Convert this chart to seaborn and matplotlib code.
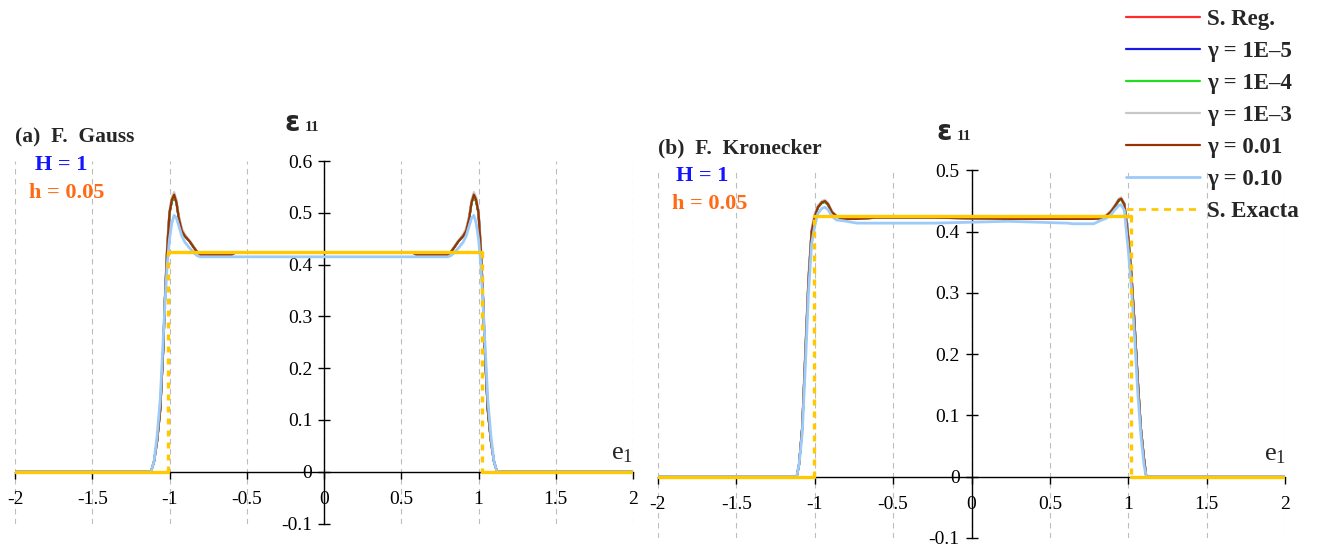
import matplotlib
matplotlib.use("Agg")
import matplotlib.pyplot as plt
import numpy as np
import seaborn as sns
from matplotlib.lines import Line2D

sns.set_theme(style="white")
plt.rcParams["font.family"] = ["Liberation Serif", "DejaVu Serif"]
plt.rcParams["axes.unicode_minus"] = False
plt.rcParams["mathtext.fontset"] = "custom"
plt.rcParams["mathtext.rm"] = "Liberation Serif"

W, H = 1324, 547

# ---------------- data: (a) Gauss filter ----------------
gauss_x = [-2.0, -1.12, -1.10, -1.08, -1.06, -1.04, -1.03, -1.015, -1.0, -0.985, -0.97,
           -0.955, -0.94, -0.92, -0.90, -0.87, -0.84, -0.82, -0.80, -0.77, -0.60, -0.57,
           0.0,
           0.57, 0.60, 0.77, 0.80, 0.82, 0.84, 0.87, 0.90, 0.92, 0.94, 0.955,
           0.97, 0.985, 1.0, 1.015, 1.03, 1.04, 1.06, 1.08, 1.10, 1.12, 2.0]
gauss_fine = [0.0, 0.0, 0.02, 0.06, 0.12, 0.24, 0.33, 0.43, 0.50, 0.522, 0.532,
              0.52, 0.49, 0.465, 0.455, 0.445, 0.432, 0.424, 0.419, 0.419, 0.419, 0.424,
              0.424,
              0.424, 0.419, 0.419, 0.419, 0.424, 0.432, 0.445, 0.455, 0.465, 0.49, 0.52,
              0.532, 0.522, 0.50, 0.43, 0.33, 0.24, 0.12, 0.06, 0.02, 0.0, 0.0]
gauss_g1e3 = [0.0, 0.0, 0.02, 0.06, 0.13, 0.25, 0.34, 0.44, 0.505, 0.53, 0.54,
              0.525, 0.495, 0.47, 0.458, 0.447, 0.433, 0.424, 0.419, 0.419, 0.419, 0.424,
              0.424,
              0.424, 0.419, 0.419, 0.419, 0.424, 0.433, 0.447, 0.458, 0.47, 0.495, 0.525,
              0.54, 0.53, 0.505, 0.44, 0.34, 0.25, 0.13, 0.06, 0.02, 0.0, 0.0]
gauss_g001 = [0.0, 0.0, 0.02, 0.06, 0.12, 0.24, 0.33, 0.43, 0.50, 0.525, 0.535,
              0.52, 0.49, 0.465, 0.455, 0.445, 0.432, 0.424, 0.419, 0.419, 0.419, 0.424,
              0.424,
              0.424, 0.419, 0.419, 0.419, 0.424, 0.432, 0.445, 0.455, 0.465, 0.49, 0.52,
              0.535, 0.525, 0.50, 0.43, 0.33, 0.24, 0.12, 0.06, 0.02, 0.0, 0.0]
gauss_g010 = [0.0, 0.0, 0.02, 0.07, 0.14, 0.26, 0.32, 0.40, 0.45, 0.48, 0.495,
              0.49, 0.475, 0.455, 0.443, 0.432, 0.422, 0.417, 0.415, 0.415, 0.415, 0.415,
              0.415,
              0.415, 0.415, 0.415, 0.415, 0.417, 0.422, 0.432, 0.443, 0.455, 0.475, 0.49,
              0.495, 0.48, 0.45, 0.40, 0.32, 0.26, 0.14, 0.07, 0.02, 0.0, 0.0]
gauss_exact_x = [-2.0, -1.01, -1.01, 1.02, 1.02, 2.0]
gauss_exact_y = [0.0, 0.0, 0.425, 0.425, 0.0, 0.0]

# ---------------- data: (b) Kronecker filter ----------------
kron_x = [-2.0, -1.115, -1.10, -1.08, -1.06, -1.04, -1.02, -1.00, -0.98, -0.955, -0.935,
          -0.915, -0.89, -0.86, -0.82, -0.73, -0.61, -0.24, 0.23, 0.61, 0.65, 0.78,
          0.82, 0.86, 0.89, 0.915, 0.94, 0.955, 0.975, 1.00, 1.02, 1.04, 1.06, 1.08,
          1.10, 1.115, 2.0]
kron_fine = [0.0, 0.0, 0.02, 0.08, 0.20, 0.32, 0.40, 0.425, 0.44, 0.447, 0.449,
             0.444, 0.432, 0.425, 0.421, 0.421, 0.423, 0.423, 0.421, 0.421, 0.421, 0.421,
             0.422, 0.426, 0.433, 0.442, 0.451, 0.453, 0.445, 0.39, 0.33, 0.25, 0.16, 0.08,
             0.03, 0.0, 0.0]
kron_g1e3 = [0.0, 0.0, 0.02, 0.08, 0.21, 0.33, 0.405, 0.43, 0.443, 0.45, 0.452,
             0.447, 0.434, 0.426, 0.422, 0.421, 0.423, 0.423, 0.421, 0.421, 0.421, 0.421,
             0.423, 0.427, 0.435, 0.444, 0.454, 0.456, 0.447, 0.39, 0.33, 0.25, 0.16, 0.08,
             0.03, 0.0, 0.0]
kron_g001 = [0.0, 0.0, 0.02, 0.08, 0.20, 0.32, 0.40, 0.425, 0.44, 0.448, 0.450,
             0.445, 0.432, 0.425, 0.421, 0.421, 0.423, 0.423, 0.421, 0.421, 0.421, 0.421,
             0.422, 0.426, 0.433, 0.442, 0.452, 0.454, 0.445, 0.39, 0.33, 0.25, 0.16, 0.08,
             0.03, 0.0, 0.0]
kron_g010 = [0.0, 0.0, 0.02, 0.07, 0.18, 0.30, 0.38, 0.41, 0.43, 0.438, 0.440,
             0.436, 0.425, 0.419, 0.418, 0.414, 0.414, 0.414, 0.417, 0.414, 0.413, 0.413,
             0.418, 0.422, 0.428, 0.436, 0.443, 0.444, 0.435, 0.37, 0.31, 0.23, 0.14, 0.07,
             0.02, 0.0, 0.0]
kron_exact_x = [-2.0, -1.005, -1.005, 1.015, 1.015, 2.0]
kron_exact_y = [0.0, 0.0, 0.4255, 0.4255, 0.0, 0.0]

series_labels = ["S. Reg.", "γ = 1E–5", "γ = 1E–4", "γ = 1E–3", "γ = 0.01", "γ = 0.10"]
exact_label = "S. Exacta"
x_ticks = [-2, -1.5, -1, -0.5, 0, 0.5, 1, 1.5, 2]
x_tick_labels = ["-2", "-1.5", "-1", "-0.5", "0", "0.5", "1", "1.5", "2"]
gauss_y_ticks = [-0.1, 0, 0.1, 0.2, 0.3, 0.4, 0.5, 0.6]
gauss_y_labels = ["-0.1", "0", "0.1", "0.2", "0.3", "0.4", "0.5", "0.6"]
kron_y_ticks = [-0.1, 0, 0.1, 0.2, 0.3, 0.4, 0.5]
kron_y_labels = ["-0.1", "0", "0.1", "0.2", "0.3", "0.4", "0.5"]

# ---------------- styling ----------------
colors = ["#FF2A2A", "#1A1AE6", "#22DD22", "#C8C8C8", "#993300", "#9CCBFA"]
widths = [1.6, 1.6, 1.6, 1.6, 1.6, 2.0]
exact_color = "#FFC800"
serif_bold = dict(family="Liberation Serif", weight="bold")


def px(x, y):
    return x / W, 1 - y / H


def draw_panel(ax, x, curves, ex_x, ex_y, y_ticks, y_labels, ylim):
    for values, label, color, lw in zip(curves, series_labels, colors, widths):
        sns.lineplot(x=x, y=values, ax=ax, color=color, lw=lw, label=label,
                     estimator=None, sort=False, legend=False, zorder=4)
    for i in range(len(ex_x) - 1):
        sx, sy = ex_x[i:i + 2], ex_y[i:i + 2]
        vertical = sx[0] == sx[1]
        sns.lineplot(x=sx, y=sy, ax=ax, color=exact_color, lw=2.4,
                     linestyle=(0, (1.8, 1.8)) if vertical else "-",
                     estimator=None, sort=False, legend=False, zorder=5)
    ax.set_xlim(-2, 2)
    ax.set_ylim(*ylim)
    ax.set_xlabel("")
    ax.set_ylabel("")
    for side in ("top", "right"):
        ax.spines[side].set_visible(False)
    ax.spines["left"].set_position(("data", 0))
    ax.spines["bottom"].set_position(("data", 0))
    for side in ("left", "bottom"):
        ax.spines[side].set_color("black")
        ax.spines[side].set_linewidth(1.0)
        ax.spines[side].set_zorder(3)
    ax.set_xticks(x_ticks)
    ax.set_xticklabels(x_tick_labels)
    ax.set_yticks(y_ticks)
    ax.set_yticklabels(y_labels)
    ax.tick_params(axis="x", direction="out", length=5, width=1, pad=9,
                   labelsize=14, colors="black", bottom=True)
    ax.tick_params(axis="y", direction="inout", length=9, width=1, pad=4,
                   labelsize=14, colors="black", left=True)
    ax.xaxis.grid(True, color="#BDBDBD", linestyle=(0, (5, 4)), lw=0.8)
    ax.yaxis.grid(False)
    ax.set_axisbelow(True)
    ax.set_facecolor("white")


fig = plt.figure(figsize=(W / 100, H / 100), dpi=100)
fig.patch.set_facecolor("white")

ax_a = fig.add_axes([15 / W, 1 - 523.6 / H, (633 - 15) / W, (523.6 - 161) / H])
ax_b = fig.add_axes([658 / W, 1 - 537.8 / H, (1285 - 658) / W, (537.8 - 170.5) / H])

draw_panel(ax_a, gauss_x, [gauss_fine, gauss_fine, gauss_fine, gauss_g1e3, gauss_g001, gauss_g010],
           gauss_exact_x, gauss_exact_y, gauss_y_ticks, gauss_y_labels, (-0.1, 0.6))
draw_panel(ax_b, kron_x, [kron_fine, kron_fine, kron_fine, kron_g1e3, kron_g001, kron_g010],
           kron_exact_x, kron_exact_y, kron_y_ticks, kron_y_labels, (-0.1, 0.5))

# panel titles and parameters
fig.text(*px(15, 137), "(a)  F.  Gauss", fontsize=15.5, va="center", ha="left", **serif_bold)
fig.text(*px(61, 165), "H = 1", fontsize=16, color="#1414FF", va="center", ha="center", **serif_bold)
fig.text(*px(67, 193), "h = 0.05", fontsize=16, color="#FF6A14", va="center", ha="center", **serif_bold)
fig.text(*px(658, 148), "(b)  F.  Kronecker", fontsize=15.5, va="center", ha="left", **serif_bold)
fig.text(*px(702, 176), "H = 1", fontsize=16, color="#1414FF", va="center", ha="center", **serif_bold)
fig.text(*px(710, 204), "h = 0.05", fontsize=16, color="#FF6A14", va="center", ha="center", **serif_bold)

# axis titles
for ex, ey, sx in [(285, 131, 305), (937, 140, 957)]:
    fig.text(*px(ex, ey), "ε", fontsize=20, va="baseline", ha="left", family="DejaVu Sans", weight="bold")
    fig.text(*px(sx, ey), "11", fontsize=11, va="baseline", ha="left", **serif_bold)
for ex, ey in [(611, 459), (1264, 460)]:
    fig.text(*px(ex, ey), r"$\mathregular{e_1}$", fontsize=19, va="baseline", ha="left")

# legend
handles = [Line2D([], [], color=c, lw=lw) for c, lw in zip(colors, widths)]
handles.append(Line2D([], [], color=exact_color, lw=2, linestyle=(0, (2.5, 2))))
fig.legend(handles, series_labels + [exact_label], loc="upper left",
           bbox_to_anchor=px(1126, 9), frameon=False,
           prop=dict(family="Liberation Serif", weight="bold", size=16.5),
           handlelength=3.23, handletextpad=0.3, labelspacing=0.48,
           borderpad=0, borderaxespad=0)

fig.savefig("out.png", dpi=100, facecolor="white")
